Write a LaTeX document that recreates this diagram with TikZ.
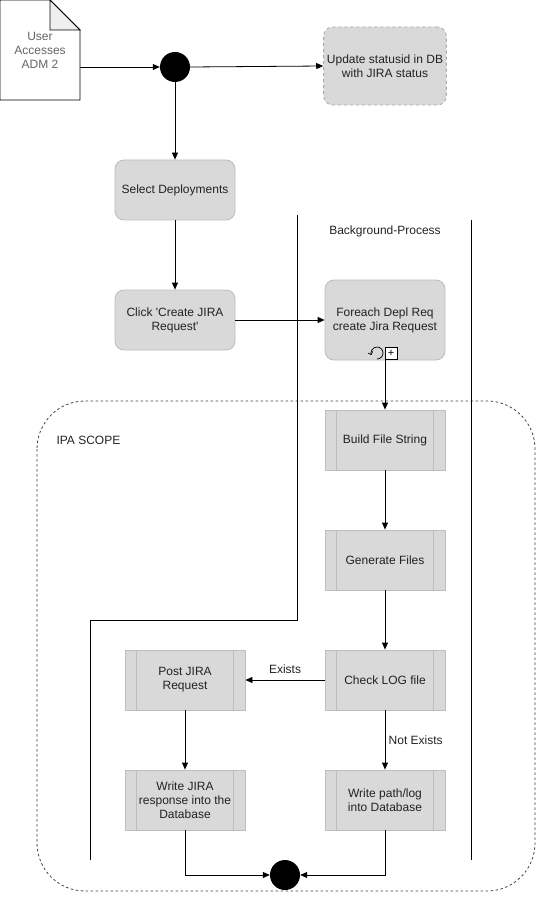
\documentclass[tikz,border=0pt]{standalone}
\usepackage{fontspec}
\setmainfont{Liberation Sans}
\usetikzlibrary{arrows.meta}
\usetikzlibrary{calc}

\definecolor{boxfill}{HTML}{D9D9D9}
\definecolor{boxline}{HTML}{BDBDBD}
\definecolor{foldfill}{HTML}{EFEFEF}
\definecolor{txt}{HTML}{222222}

\tikzset{
	flowarrow/.style={-{Triangle[length=7pt,width=6pt]}, line width=0.8pt},
	plainline/.style={line width=0.8pt},
	roundbox/.style={draw=boxline, fill=boxfill, rounded corners=9pt, minimum width=120pt, align=center, line width=0.8pt, text=txt},
	subbox/.style={draw=boxline, fill=boxfill, minimum width=120pt, minimum height=60pt, align=center, line width=0.8pt, text=txt},
	subline/.style={draw=boxline, line width=0.8pt},
	junction/.style={circle, fill=black, minimum size=30pt, inner sep=0pt}
}

\begin{document}
\begin{tikzpicture}[x=1pt, y=-1pt, font=\fontsize{12}{14}\selectfont]
	\useasboundingbox (0,0) rectangle (536,901);

	% IPA scope region, drawn first
	\draw[dash pattern=on 2.5pt off 2.5pt, line width=0.8pt, draw=black!75, rounded corners=48pt] (37,401) rectangle (535,891);
	\node[anchor=west, text=txt] (ipa) at (53,440) {IPA SCOPE};

	% swim lane of the background process
	\draw[plainline] (297,215) -- (297,620) -- (90,620) -- (90,860);
	\draw[plainline] (471,220) -- (471,860);
	\node[text=txt] (bgp) at (385,231) {Background-Process};

	% the document shape
	\draw[plainline, fill=white] (0,0) -- (50,0) -- (80,30) -- (80,100) -- (0,100) -- cycle;
	\draw[plainline, fill=foldfill] (50,0) -- (50,30) -- (80,30) -- cycle;
	\node[align=center, text=black!60, minimum width=80pt, minimum height=100pt] (doc) at (40,50) {User\\Accesses\\ADM 2};

	% junctions
	\node[junction] (start) at (175,67) {};
	\node[junction] (finish) at (285,875) {};

	% boxes on the user side
	\node[roundbox, dashed, draw=black!35, minimum height=78pt] (update) at (385,66) {Update statusid in DB\\with JIRA status};
	\node[roundbox, minimum height=60pt] (select) at (175,190) {Select Deployments};
	\node[roundbox, minimum height=60pt] (click) at (175,320) {Click \textquotesingle Create JIRA\\Request\textquotesingle};
	\node[roundbox, minimum height=80pt] (foreach) at (385,320) {Foreach Depl Req\\create Jira Request};

	% loop and sub-process markers of the foreach box
	\draw[line width=0.7pt, -{Straight Barb[length=2.5pt]}] (377,359) arc[start angle=270, end angle=560, radius=6pt];
	\node[draw, fill=white, minimum size=12pt, inner sep=0pt, line width=0.7pt, font=\fontsize{11}{11}\selectfont] (plus) at (391,353) {+};

	% boxes of the background process
	\node[subbox] (build) at (385,440) {Build File String};
	\node[subbox] (gen) at (385,560) {Generate Files};
	\node[subbox] (check) at (385,680) {Check LOG file};
	\node[subbox] (post) at (185,680) {Post JIRA\\Request};
	\node[subbox] (wjira) at (185,800) {Write JIRA\\response into the\\Database};
	\node[subbox] (wpath) at (385,800) {Write path/log\\into Database};

	% side strips of the sub-process boxes
	\foreach \n in {build,gen,check,post,wjira,wpath}{
		\draw[subline] ([xshift=12pt]\n.north west) -- ([xshift=12pt]\n.south west);
		\draw[subline] ([xshift=-12pt]\n.north east) -- ([xshift=-12pt]\n.south east);
	}

	% connectors
	\draw[flowarrow] (doc.east |- start.west) -- (start.west);
	\draw[flowarrow] (start.east) -- (update.west);
	\draw[flowarrow] (start.south) -- (select.north);
	\draw[flowarrow] (select.south) -- (click.north);
	\draw[flowarrow] (click.east) -- (click.east -| foreach.west);
	\draw[flowarrow] (foreach.south) -- (build.north);
	\draw[flowarrow] (build.south) -- (gen.north);
	\draw[flowarrow] (gen.south) -- (check.north);
	\draw[flowarrow] (check.west) -- node[above=3pt, text=txt] (exists) {Exists} (post.east);
	\draw[flowarrow] (check.south) -- node[right, text=txt] (notexists) {Not Exists} (wpath.north);
	\draw[flowarrow] (post.south) -- (wjira.north);
	\draw[flowarrow] (wjira.south) |- (finish.west);
	\draw[flowarrow] (wpath.south) |- (finish.east);

\end{tikzpicture}
\end{document}
